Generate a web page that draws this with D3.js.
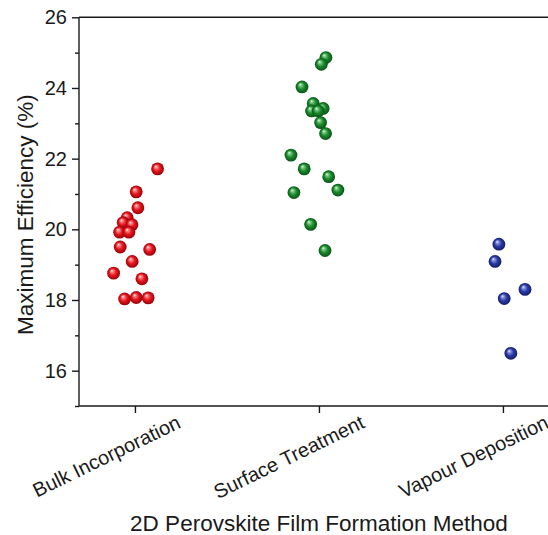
<!DOCTYPE html>
<html><head><meta charset="utf-8">
<script src="https://cdn.jsdelivr.net/npm/d3@7"></script>
<style>html,body{margin:0;padding:0;background:#fff;}svg{display:block;font-family:"Liberation Sans",Arial,sans-serif;}</style>
</head><body>
<svg id="c" width="548" height="535"></svg>
<script>
const categories = ["Bulk Incorporation", "Surface Treatment", "Vapour Deposition"];
const yTicks = [16, 18, 20, 22, 24, 26];
const yMinorTicks = [15, 17, 19, 21, 23, 25];
const xTitle = "2D Perovskite Film Formation Method";
const yTitle = "Maximum Efficiency (%)";

// efficiency values per category and horizontal jitter (in category units)
const bulkValues  = [21.71, 21.06, 20.61, 20.33, 20.19, 20.13, 19.92, 19.92, 19.50, 19.43, 19.09, 18.76, 18.60, 18.03, 18.07, 18.06];
const bulkJitter  = [0.123, 0.007, 0.016, -0.042, -0.064, -0.016, -0.083, -0.033, -0.080, 0.080, -0.015, -0.116, 0.038, -0.056, 0.007, 0.072];
const surfValues  = [24.86, 24.67, 24.03, 23.56, 23.42, 23.35, 23.35, 23.02, 22.71, 22.10, 21.71, 21.49, 21.04, 21.11, 20.14, 19.40];
const surfJitter  = [0.038, 0.013, -0.092, -0.031, 0.023, -0.040, -0.004, 0.009, 0.036, -0.152, -0.080, 0.053, -0.136, 0.103, -0.045, 0.033];
const vapValues   = [19.58, 19.09, 18.30, 18.04, 16.49];
const vapJitter   = [-0.022, -0.043, 0.120, 0.007, 0.043];

const series = [
  {values: bulkValues, jitter: bulkJitter, idx: 1, id: "gr", base: "#e4161e", light: "#ff8a8a", dark: "#9a0008"},
  {values: surfValues, jitter: surfJitter, idx: 2, id: "gg", base: "#1c8a2c", light: "#7fd08a", dark: "#075416"},
  {values: vapValues,  jitter: vapJitter,  idx: 3, id: "gb", base: "#2a3ca6", light: "#8f9be0", dark: "#141d66"}
];

const svg = d3.select("#c");
const mLeft = 79, mTop = 17.3, mBottom = 406;
const x = d3.scaleLinear().domain([0.696, 3.5]).range([mLeft, mLeft + (3.5-0.696)*184]);
const y = d3.scaleLinear().domain([15, 26]).range([mBottom, mTop]);
const ink = "#1a1a1a";

// gradients
const defs = svg.append("defs");
series.forEach(s => {
  const g = defs.append("radialGradient").attr("id", s.id)
    .attr("cx", "50%").attr("cy", "50%").attr("r", "50%")
    .attr("fx", "35%").attr("fy", "30%");
  g.append("stop").attr("offset", "0%").attr("stop-color", "#ffffff");
  g.append("stop").attr("offset", "18%").attr("stop-color", s.light);
  g.append("stop").attr("offset", "55%").attr("stop-color", s.base);
  g.append("stop").attr("offset", "100%").attr("stop-color", s.dark);
});

// top frame line
svg.append("line").attr("x1", mLeft).attr("x2", 548).attr("y1", mTop).attr("y2", mTop)
  .attr("stroke", ink).attr("stroke-width", 1.4);

// y axis
const yAxis = svg.append("g").attr("transform", `translate(${mLeft},0)`)
  .call(d3.axisLeft(y).tickValues(yTicks).tickSize(7).tickPadding(5).tickFormat(d3.format("d")));
yAxis.select(".domain").attr("stroke", ink).attr("stroke-width", 1.4).attr("d", `M0,${mBottom}V${mTop}`);
yAxis.selectAll(".tick line").attr("stroke", ink).attr("stroke-width", 1.4);
yAxis.selectAll(".tick text").attr("font-size", 20).attr("fill", ink).attr("font-family", "Liberation Sans, Arial, sans-serif");
const yMinor = svg.append("g").attr("transform", `translate(${mLeft},0)`)
  .call(d3.axisLeft(y).tickValues(yMinorTicks).tickSize(4).tickFormat(""));
yMinor.select(".domain").remove();
yMinor.selectAll(".tick line").attr("stroke", ink).attr("stroke-width", 1.4);

// x axis
const xAxis = svg.append("g").attr("transform", `translate(0,${mBottom})`)
  .call(d3.axisBottom(x).tickValues([1, 2, 3]).tickSize(7).tickFormat(""));
xAxis.select(".domain").attr("stroke", ink).attr("stroke-width", 1.4).attr("d", `M${mLeft},0H548`);
xAxis.selectAll(".tick line").attr("stroke", ink).attr("stroke-width", 1.4);

svg.append("g").selectAll("text").data(categories).join("text")
  .attr("transform", (d, i) => `translate(${x(i + 1) + 47},${427}) rotate(-26)`)
  .attr("text-anchor", "end")
  .attr("font-size", 20).attr("fill", ink)
  .text(d => d);

// titles
svg.append("text").attr("x", x(2)).attr("y", 531).attr("text-anchor", "middle")
  .attr("font-size", 22.5).attr("fill", ink).text(xTitle);
svg.append("text").attr("transform", `translate(33,${(y(15) + y(26)) / 2 + 3}) rotate(-90)`)
  .attr("text-anchor", "middle").attr("font-size", 22.5).attr("fill", ink).text(yTitle);

// points
series.forEach(s => {
  svg.append("g").selectAll("circle").data(s.values).join("circle")
    .attr("cx", (d, i) => x(s.idx + s.jitter[i]))
    .attr("cy", d => y(d))
    .attr("r", 6.4)
    .attr("fill", `url(#${s.id})`);
});
</script>
</body></html>
